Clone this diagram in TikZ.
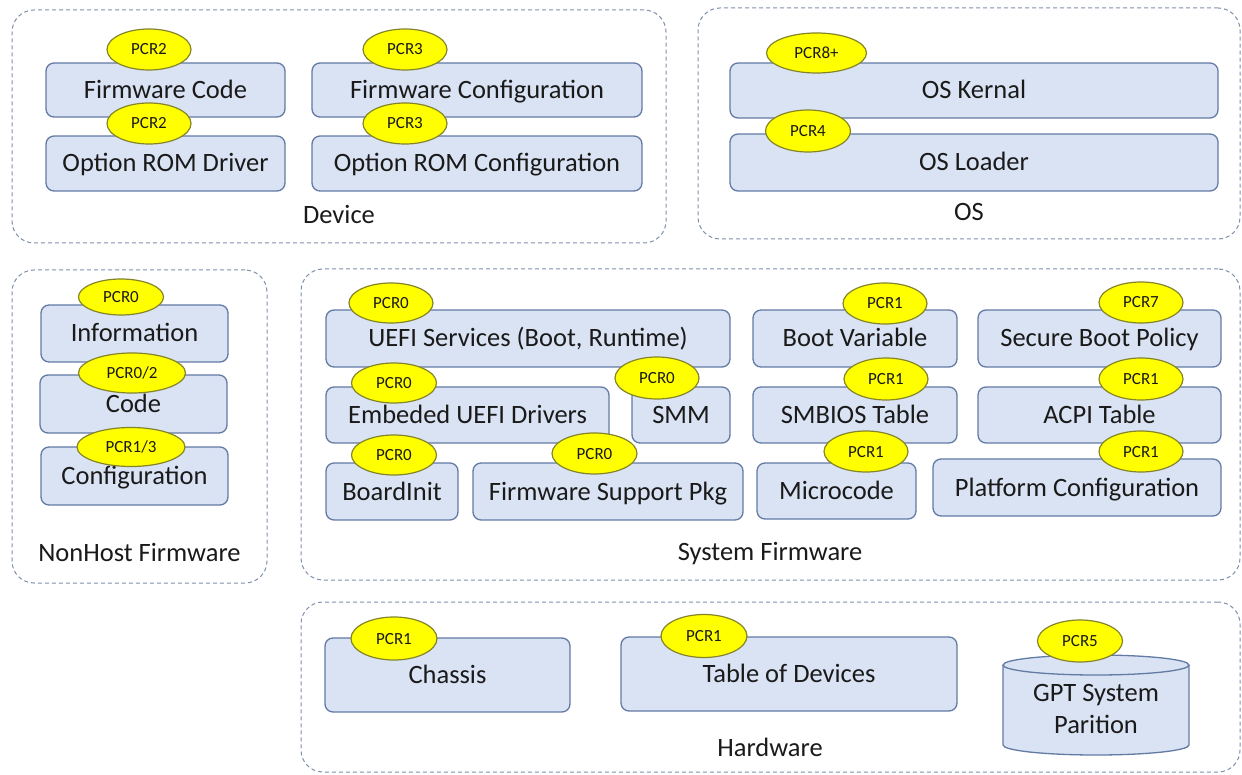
\documentclass[tikz,border=0pt]{standalone}
\usepackage{fontspec}
\setmainfont{Carlito}
\usetikzlibrary{shapes.geometric,fit}
\definecolor{boxfill}{HTML}{DAE3F3}
\definecolor{boxline}{HTML}{637AA4}
\definecolor{pcrfill}{HTML}{FFFF00}
\definecolor{pcrline}{HTML}{84842A}
\definecolor{grpline}{HTML}{7F8FAB}
\definecolor{txt}{HTML}{1A1A1A}
\tikzset{
  box/.style={rectangle, rounded corners=8pt, draw=boxline, fill=boxfill, line width=1.3pt,
    inner sep=0pt, text=txt, font=\fontsize{26.5}{30}\selectfont,
    text height=17pt, text depth=0pt},
  pcr/.style={ellipse, draw=pcrline, fill=pcrfill, line width=1.2pt, inner sep=0pt,
    text=txt, font=\fontsize{17}{20}\selectfont, text height=11pt, text depth=0pt},
  grp/.style={rectangle, rounded corners=22pt, draw=grpline, line width=1pt,
    dash pattern=on 4pt off 3pt, inner sep=0pt},
  grplabel/.style={text=txt, font=\fontsize{26.5}{30}\selectfont, inner sep=0pt,
    text height=17pt, text depth=0pt},
}
\begin{document}
\begin{tikzpicture}[x=1pt,y=-1pt]
\path[use as bounding box] (0,0) rectangle (1242,775);

% containers
\node[grp, fit={(12,10) (666,243)}] (device) {};
\node[grp, fit={(698,8) (1240,239)}] (os) {};
\node[grp, fit={(12,270) (267,583)}] (nonhost) {};
\node[grp, fit={(301,269) (1240,580)}] (sysfw) {};
\node[grp, fit={(301,602) (1240,772)}] (hw) {};

\node[grplabel] (devicelbl) at (339,215) {Device};
\node[grplabel] (oslbl) at (969,212) {OS};
\node[grplabel] (nonhostlbl) at (139.5,553) {NonHost Firmware};
\node[grplabel] (sysfwlbl) at (770,552) {System Firmware};
\node[grplabel] (hwlbl) at (770,748) {Hardware};

% device boxes
\node[box, minimum width=239pt, minimum height=54pt] (fwcode) at (165.5,90) {Firmware Code};
\node[box, minimum width=239pt, minimum height=55pt] (optdrv) at (165.5,163.5) {Option ROM Driver};
\node[box, minimum width=330pt, minimum height=54pt] (fwcfg) at (477,90) {Firmware Configuration};
\node[box, minimum width=330pt, minimum height=55pt] (optcfg) at (477,163.5) {Option ROM Configuration};

% OS boxes
\node[box, minimum width=488pt, minimum height=55pt] (oskern) at (974,90.5) {OS Kernal};
\node[box, minimum width=488pt, minimum height=57pt] (osload) at (974,162.5) {OS Loader};

% NonHost boxes
\node[box, minimum width=187pt, minimum height=57pt] (info) at (134.5,333.5) {Information};
\node[box, minimum width=187pt, minimum height=58pt] (code) at (133.5,404) {Code};
\node[box, minimum width=187pt, minimum height=58pt] (config) at (134.5,476) {Configuration};

% System firmware boxes
\node[box, minimum width=404pt, minimum height=57pt] (uefi) at (528,338.5) {UEFI Services (Boot, Runtime)};
\node[box, minimum width=283pt, minimum height=56pt] (embed) at (467.5,415) {Embeded UEFI Drivers};
\node[box, minimum width=98pt, minimum height=56pt] (smm) at (681,415) {SMM};
\node[box, minimum width=132pt, minimum height=57pt] (board) at (392,491.5) {BoardInit};
\node[box, minimum width=270pt, minimum height=57pt] (fsp) at (608,491.5) {Firmware Support Pkg};
\node[box, minimum width=204pt, minimum height=57pt] (bootvar) at (855,338.5) {Boot Variable};
\node[box, minimum width=243pt, minimum height=57pt] (secboot) at (1099.5,338.5) {Secure Boot Policy};
\node[box, minimum width=204pt, minimum height=56pt] (smbios) at (855,415) {SMBIOS Table};
\node[box, minimum width=243pt, minimum height=56pt] (acpi) at (1099.5,415) {ACPI Table};
\node[box, minimum width=159pt, minimum height=56pt] (micro) at (836.5,491) {Microcode};
\node[box, minimum width=288pt, minimum height=57pt] (platcfg) at (1077,487.5) {Platform Configuration};

% Hardware boxes
\node[box, minimum width=245pt, minimum height=74pt] (chassis) at (447.5,675) {Chassis};
\node[box, minimum width=336pt, minimum height=74pt] (tabdev) at (789,674) {Table of Devices};

% cylinder
\fill[boxfill] (1003,665) rectangle (1189,745);
\fill[boxfill] (1096,745) ellipse [x radius=93, y radius=10];
\draw[boxline, line width=1.3pt] (1003,665) -- (1003,745)
  arc[start angle=180, end angle=0, x radius=93, y radius=10] -- (1189,665);
\draw[boxline, line width=1.3pt, fill=boxfill] (1096,665) ellipse [x radius=93, y radius=10];
\node[text=txt, font=\fontsize{26.5}{32}\selectfont, align=center, inner sep=0pt] (gpt) at (1096,709) {GPT System\\Parition};

% PCR ellipses
\node[pcr, minimum width=84pt, minimum height=41pt] (p1) at (149,49.5) {PCR2};
\node[pcr, minimum width=84pt, minimum height=41pt] (p2) at (149,123.5) {PCR2};
\node[pcr, minimum width=84pt, minimum height=41pt] (p3) at (405,49.5) {PCR3};
\node[pcr, minimum width=84pt, minimum height=41pt] (p4) at (405,123.5) {PCR3};

\node[pcr, minimum width=100pt, minimum height=40pt] (p5) at (816.5,53) {PCR8+};
\node[pcr, minimum width=85pt, minimum height=42pt] (p6) at (808,131) {PCR4};

\node[pcr, minimum width=85pt, minimum height=36pt] (p7) at (121,297) {PCR0};
\node[pcr, minimum width=107pt, minimum height=40pt] (p8) at (132,373) {PCR0/2};
\node[pcr, minimum width=108pt, minimum height=39pt] (p9) at (131,447) {PCR1/3};

\node[pcr, minimum width=84pt, minimum height=40pt] (p10) at (391,303) {PCR0};
\node[pcr, minimum width=85pt, minimum height=40pt] (p11) at (394,383) {PCR0};
\node[pcr, minimum width=84pt, minimum height=42pt] (p12) at (657,378) {PCR0};
\node[pcr, minimum width=85pt, minimum height=40pt] (p13) at (394,455) {PCR0};
\node[pcr, minimum width=85pt, minimum height=41pt] (p14) at (594.5,453.5) {PCR0};

\node[pcr, minimum width=84pt, minimum height=41pt] (p15) at (885,303.5) {PCR1};
\node[pcr, minimum width=84pt, minimum height=41pt] (p16) at (1141,302.5) {PCR7};
\node[pcr, minimum width=84pt, minimum height=42pt] (p17) at (886,379) {PCR1};
\node[pcr, minimum width=84pt, minimum height=42pt] (p18) at (1141,379) {PCR1};
\node[pcr, minimum width=84pt, minimum height=41pt] (p19) at (866,451.5) {PCR1};
\node[pcr, minimum width=84pt, minimum height=41pt] (p20) at (1141,451.5) {PCR1};

\node[pcr, minimum width=86pt, minimum height=43pt] (p21) at (394,638.5) {PCR1};
\node[pcr, minimum width=86pt, minimum height=43pt] (p22) at (704,636) {PCR1};
\node[pcr, minimum width=85pt, minimum height=42pt] (p23) at (1080,641) {PCR5};
\end{tikzpicture}
\end{document}
